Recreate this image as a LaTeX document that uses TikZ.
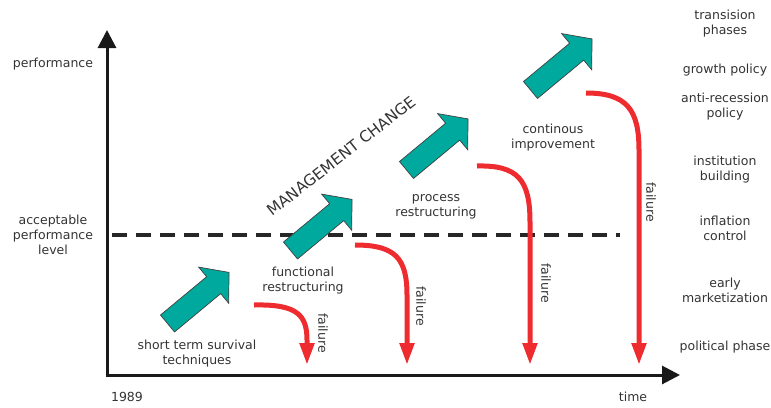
\documentclass[tikz,border=0pt]{standalone}
\usepackage{fontspec}
\setmainfont{DejaVu Sans}
\usetikzlibrary{arrows.meta}
\definecolor{tealA}{HTML}{00A99D}
\definecolor{redA}{HTML}{EE2B2F}
\definecolor{txt}{HTML}{333333}
\tikzset{
  lbl/.style={text=txt, font=\fontsize{12.5}{15}\selectfont, align=center, inner sep=0pt},
  axisline/.style={line width=3pt, black!90, line join=miter},
  failarrow/.style={redA, line width=5pt, -{Triangle[length=22pt,width=14pt]}},
  blockarr/.style={fill=tealA, draw=black!75, line width=0.7pt, line join=miter},
  blockarrow/.pic={\filldraw[blockarr] (0,-11) -- (60,-11) -- (60,-23.5) -- (80,0) -- (60,23.5) -- (60,11) -- (0,11) -- cycle;}
}
\begin{document}
\begin{tikzpicture}[x=1pt,y=-1pt]
\useasboundingbox (0,0) rectangle (771,407);
% axes
\coordinate (O) at (107,375);
\coordinate (ytip) at (107,30);
\coordinate (xtip) at (680,375);
\draw[axisline, {Triangle[length=18pt,width=18pt]}-{Triangle[length=18pt,width=18pt]}] (ytip) -- (O) -- (xtip);
% acceptable level
\coordinate (d0) at (112,235);
\coordinate (d1) at (620,235);
\draw[line width=3.5pt, black!85, dash pattern=on 15pt off 9pt] (d0) -- (d1);
% teal arrows
\pic[rotate=39.7] (a1) at (167.5,323.5) {blockarrow};
\pic[rotate=39.7] (a2) at (290.5,250.5) {blockarrow};
\pic[rotate=39.7] (a3) at (406.5,170) {blockarrow};
\pic[rotate=39.7] (a4) at (530.5,90) {blockarrow};
% red failure arrows
\coordinate (r1s) at (254,305); \coordinate (r1e) at (307,365);
\coordinate (r2s) at (355,245); \coordinate (r2e) at (407,365);
\coordinate (r3s) at (477,166); \coordinate (r3e) at (530,365);
\coordinate (r4s) at (586,93);  \coordinate (r4e) at (639,365);
\draw[failarrow] (r1s) .. controls (297,304) and (307,315) .. (307,340) -- (r1e);
\draw[failarrow] (r2s) .. controls (395,245) and (407,258) .. (407,295) -- (r2e);
\draw[failarrow] (r3s) .. controls (518,165) and (530,180) .. (530,222) -- (r3e);
\draw[failarrow] (r4s) .. controls (627,93) and (639,110) .. (639,150) -- (r4e);
\node[lbl, rotate=-90] (f1) at (323,333) {failure};
\node[lbl, rotate=-90] (f2) at (421,306) {failure};
\node[lbl, rotate=-90] (f3) at (546,283) {failure};
\node[lbl, rotate=-90] (f4) at (651,202) {failure};
% left labels
\node[lbl] (perf) at (53,64) {performance};
\node[lbl] (accept) at (53,235) {acceptable\\performance\\level};
\node[lbl] (y1989) at (127,397) {1989};
\node[lbl] (time) at (633,397) {time};
% stage labels
\node[lbl] (s1) at (197,353.5) {short term survival\\techniques};
\node[lbl] (s2) at (303,280.5) {functional\\restructuring};
\node[lbl] (s3) at (436,206.5) {process\\restructuring};
\node[lbl] (s4) at (553,137.5) {continous\\improvement};
\node[lbl, font=\fontsize{15.5}{18}\selectfont, rotate=38] (mc) at (341,156) {MANAGEMENT CHANGE};
% right column
\node[lbl] (p1) at (725,24) {transision\\phases};
\node[lbl] (p2) at (725,70) {growth policy};
\node[lbl] (p3) at (725,107) {anti-recession\\policy};
\node[lbl] (p4) at (725,169.5) {institution\\building};
\node[lbl] (p5) at (725,228.5) {inflation\\control};
\node[lbl] (p6) at (725,290) {early\\marketization};
\node[lbl] (p7) at (725,347) {political phase};
\end{tikzpicture}
\end{document}
